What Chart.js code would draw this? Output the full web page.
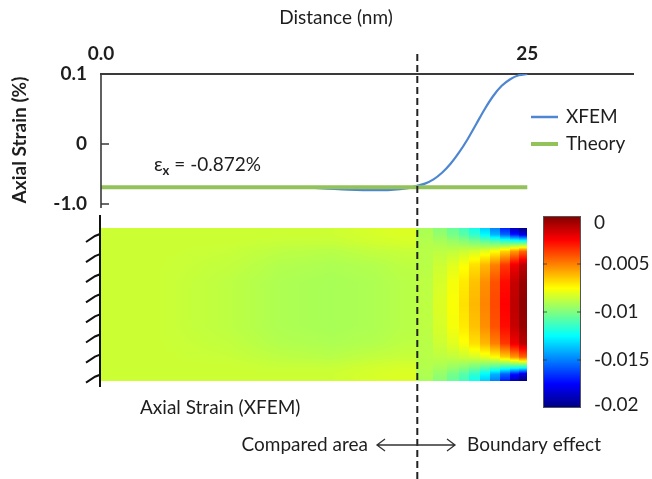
<!DOCTYPE html>
<html><head><meta charset="utf-8">
<script src="https://cdn.jsdelivr.net/npm/chart.js@4.4.1/dist/chart.umd.min.js"></script>
<style>html,body{margin:0;padding:0;background:#fff;}</style>
</head><body>
<canvas id="c" width="652" height="479"></canvas>
<script>
// ---------- data ----------
const xTickVals = [0, 25];
const xTickLabels = ['0.0', '25'];
const yTickVals = [1.1667, 0, -1.0];
const yTickLabels = ['0.1', '0', '-1.0'];

const xfemX = [0, 2, 4, 6, 8, 10, 11.5, 13, 14.5, 16, 17, 18, 18.5, 19.0, 19.5, 20.0, 20.5, 21.0, 21.5, 22.0, 22.5, 23.0, 23.5, 24.0, 24.5, 25];
const xfemY = [-0.72, -0.72, -0.72, -0.72, -0.72, -0.72, -0.725, -0.74, -0.76, -0.77, -0.765, -0.735, -0.70, -0.66, -0.59, -0.48, -0.33, -0.14, 0.08, 0.33, 0.58, 0.80, 0.97, 1.08, 1.145, 1.167];
const theoryX = [0, 25];
const theoryY = [-0.72, -0.72];
const seriesLabels = ['XFEM', 'Theory'];
const boundaryX = 18.55;
const strainNote = ' = -0.872%';

// heat map (strain field): columns between x edges (nm), values at row heights (nm)
const heatXEdges = [0, 6, 9, 12, 15, 17, 18.5, 19.5, 20.3, 21.0, 21.6, 22.2, 22.8, 23.4, 24.0, 24.5, 25.0];
const heatSmoothUntil = 18.5; // left of this the field varies smoothly, right of it in bands
const heatYStops = [9.0, 8.6, 8.2, 7.6, 6.8, 5.8, 4.5, 3.2, 2.2, 1.4, 0.8, 0.4, 0.0];
const heatValues = [
  [-0.0085,-0.0085,-0.0085,-0.0085,-0.0085,-0.0085,-0.0085,-0.0085,-0.0085,-0.0085,-0.0085,-0.0085,-0.0085],
  [-0.0085,-0.0085,-0.0085,-0.0086,-0.0087,-0.0088,-0.0088,-0.0088,-0.0087,-0.0086,-0.0085,-0.0085,-0.0085],
  [-0.0085,-0.0085,-0.0086,-0.0088,-0.0090,-0.0091,-0.0091,-0.0091,-0.0090,-0.0088,-0.0086,-0.0085,-0.0085],
  [-0.0085,-0.0085,-0.0086,-0.0089,-0.0091,-0.0092,-0.0092,-0.0092,-0.0091,-0.0089,-0.0086,-0.0085,-0.0085],
  [-0.0083,-0.0083,-0.0084,-0.0087,-0.0090,-0.0091,-0.0091,-0.0091,-0.0090,-0.0087,-0.0084,-0.0083,-0.0083],
  [-0.0082,-0.0082,-0.0083,-0.0086,-0.0088,-0.0089,-0.0089,-0.0089,-0.0088,-0.0086,-0.0083,-0.0082,-0.0082],
  [-0.0092,-0.0091,-0.0090,-0.0089,-0.0089,-0.0088,-0.0088,-0.0088,-0.0089,-0.0089,-0.0090,-0.0091,-0.0092],
  [-0.0098,-0.0096,-0.0092,-0.0088,-0.0085,-0.0083,-0.0082,-0.0083,-0.0085,-0.0088,-0.0092,-0.0096,-0.0098],
  [-0.0105,-0.0102,-0.0095,-0.0087,-0.0081,-0.0077,-0.0076,-0.0077,-0.0081,-0.0087,-0.0095,-0.0102,-0.0105],
  [-0.0112,-0.0108,-0.0098,-0.0085,-0.0076,-0.0071,-0.0069,-0.0071,-0.0076,-0.0085,-0.0098,-0.0108,-0.0112],
  [-0.0122,-0.0116,-0.0102,-0.0083,-0.0069,-0.0063,-0.0061,-0.0063,-0.0069,-0.0083,-0.0102,-0.0116,-0.0122],
  [-0.0135,-0.0126,-0.0106,-0.0080,-0.0061,-0.0053,-0.0051,-0.0053,-0.0061,-0.0080,-0.0106,-0.0126,-0.0135],
  [-0.0150,-0.0140,-0.0110,-0.0075,-0.0050,-0.0041,-0.0039,-0.0041,-0.0050,-0.0075,-0.0110,-0.0140,-0.0150],
  [-0.0170,-0.0156,-0.0115,-0.0066,-0.0036,-0.0027,-0.0025,-0.0027,-0.0036,-0.0066,-0.0115,-0.0156,-0.0170],
  [-0.0190,-0.0172,-0.0118,-0.0055,-0.0022,-0.0014,-0.0012,-0.0014,-0.0022,-0.0055,-0.0118,-0.0172,-0.0190],
  [-0.0200,-0.0182,-0.0120,-0.0045,-0.0012,-0.0005,-0.0003,-0.0005,-0.0012,-0.0045,-0.0120,-0.0182,-0.0200]
];
const cbMin = -0.02, cbMax = 0;
const cbTickVals = [0, -0.005, -0.01, -0.015, -0.02];
const cbTickLabels = ['0', '-0.005', '-0.01', '-0.015', '-0.02'];

// ---------- styling ----------
const FONT = 'Lato, "Open Sans", sans-serif';
const TXT = '#1e1e1e';
const BLUE = '#4f86d2';
const GREEN = '#93c25a';

function jetRGB(v) {
  let t = (v - cbMin) / (cbMax - cbMin);
  t = Math.max(0, Math.min(1, t));
  const c = k => Math.round(255 * Math.max(0, Math.min(1, 1.5 - Math.abs(4 * t - k))));
  return [c(3), c(2), c(1)];
}
function jet(v) { const c = jetRGB(v); return 'rgb(' + c[0] + ',' + c[1] + ',' + c[2] + ')'; }

// value of the field at (x nm, h nm)
function fieldAt(x, h) {
  const n = heatValues.length;
  let col = heatValues[n - 1];
  let c = 0;
  while (c < n - 1 && x >= heatXEdges[c + 1]) c++;
  if (x < heatSmoothUntil) {
    const centers = [];
    for (let i = 0; i < n; i++) if (heatXEdges[i + 1] <= heatSmoothUntil) centers.push((heatXEdges[i] + heatXEdges[i + 1]) / 2);
    if (x <= centers[0]) col = heatValues[0];
    else if (x >= centers[centers.length - 1]) col = heatValues[centers.length - 1];
    else {
      let k = 0;
      while (x > centers[k + 1]) k++;
      const f = (x - centers[k]) / (centers[k + 1] - centers[k]);
      col = heatValues[k].map((v, r) => v + (heatValues[k + 1][r] - v) * f);
    }
  } else {
    col = heatValues[c];
  }
  let r = 0;
  while (r < heatYStops.length - 2 && h < heatYStops[r + 1]) r++;
  const f = Math.max(0, Math.min(1, (heatYStops[r] - h) / (heatYStops[r] - heatYStops[r + 1])));
  return col[r] + (col[r + 1] - col[r]) * f;
}

const decor = {
  id: 'decor',
  beforeDatasetsDraw(chart) {
    const ctx = chart.ctx;
    const xs = chart.scales.x, yh = chart.scales.yh;
    // heat map, evaluated pixel by pixel through the scales
    const px0 = Math.round(xs.getPixelForValue(heatXEdges[0]));
    const px1 = Math.round(xs.getPixelForValue(heatXEdges[heatXEdges.length - 1]));
    const py0 = Math.round(yh.getPixelForValue(heatYStops[0]));
    const py1 = Math.round(yh.getPixelForValue(heatYStops[heatYStops.length - 1]));
    const w = px1 - px0, hgt = py1 - py0;
    const off = document.createElement('canvas');
    off.width = w; off.height = hgt;
    const octx = off.getContext('2d');
    const img = octx.createImageData(w, hgt);
    for (let j = 0; j < hgt; j++) {
      const hv = yh.getValueForPixel(py0 + j + 0.5);
      for (let i = 0; i < w; i++) {
        const xv = xs.getValueForPixel(px0 + i + 0.5);
        const rgb = jetRGB(fieldAt(xv, hv));
        const p = (j * w + i) * 4;
        img.data[p] = rgb[0]; img.data[p + 1] = rgb[1]; img.data[p + 2] = rgb[2]; img.data[p + 3] = 255;
      }
    }
    octx.putImageData(img, 0, 0);
    ctx.drawImage(off, px0, py0);
    // fixed wall with hatching
    ctx.save();
    ctx.strokeStyle = '#111';
    ctx.lineWidth = 2;
    ctx.beginPath();
    ctx.moveTo(100, 215); ctx.lineTo(100, 387);
    for (let i = 0; i < 8; i++) {
      const y = 240 + 20.1 * i;
      ctx.moveTo(86, y + 2); ctx.lineTo(95, y - 4); ctx.lineTo(100, y - 6);
    }
    ctx.stroke();
    ctx.restore();
    // colour bar
    const cbx0 = 543, cbx1 = 581, cby0 = 216, cby1 = 408;
    const gb = ctx.createLinearGradient(0, cby0, 0, cby1);
    for (let i = 0; i <= 40; i++) {
      const f = i / 40;
      gb.addColorStop(f, jet(cbMax - f * (cbMax - cbMin)));
    }
    ctx.fillStyle = gb;
    ctx.fillRect(cbx0, cby0, cbx1 - cbx0, cby1 - cby0);
    ctx.strokeStyle = '#555';
    ctx.lineWidth = 1;
    ctx.strokeRect(cbx0 + 0.5, cby0 + 0.5, cbx1 - cbx0 - 1, cby1 - cby0 - 1);
    ctx.strokeStyle = 'rgba(40,40,40,0.7)';
    ctx.beginPath();
    cbTickVals.forEach(v => {
      const y = cby0 + (cbMax - v) / (cbMax - cbMin) * (cby1 - cby0);
      if (v === cbMax || v === cbMin) return;
      ctx.moveTo(cbx0, y); ctx.lineTo(cbx0 + 4, y);
      ctx.moveTo(cbx1, y); ctx.lineTo(cbx1 - 4, y);
    });
    ctx.stroke();
    ctx.fillStyle = TXT;
    ctx.font = '19px ' + FONT;
    ctx.textAlign = 'left';
    ctx.textBaseline = 'middle';
    cbTickVals.forEach((v, i) => {
      let y = cby0 + (cbMax - v) / (cbMax - cbMin) * (cby1 - cby0);
      y = Math.max(cby0 + 7, Math.min(cby1 - 3, y));
      ctx.fillText(cbTickLabels[i], 594, y);
    });
  },
  afterDatasetsDraw(chart) {
    const ctx = chart.ctx;
    const xs = chart.scales.x, ys = chart.scales.y;
    const a = chart.chartArea;
    ctx.save();
    // y axis line with inward ticks
    ctx.strokeStyle = '#3a3a3a';
    ctx.lineWidth = 1.6;
    ctx.beginPath();
    ctx.moveTo(a.left, a.top); ctx.lineTo(a.left, ys.getPixelForValue(-1.0) + 4);
    [0, -1.0].forEach(v => {
      const y = ys.getPixelForValue(v);
      ctx.moveTo(a.left, y); ctx.lineTo(a.left + 8, y);
    });
    ctx.stroke();
    // boundary dashed line
    const bx = xs.getPixelForValue(boundaryX);
    ctx.strokeStyle = '#222';
    ctx.lineWidth = 2;
    ctx.setLineDash([7, 4]);
    ctx.beginPath();
    ctx.moveTo(bx, 54); ctx.lineTo(bx, 479);
    ctx.stroke();
    ctx.setLineDash([]);
    // titles
    ctx.fillStyle = TXT;
    ctx.textBaseline = 'middle';
    ctx.textAlign = 'center';
    ctx.font = '19px ' + FONT;
    ctx.fillText('Distance (nm)', 336, 18);
    ctx.save();
    ctx.translate(20, 140);
    ctx.rotate(-Math.PI / 2);
    ctx.font = 'bold 19px ' + FONT;
    ctx.fillText('Axial Strain (%)', 0, 0);
    ctx.restore();
    // epsilon annotation
    ctx.textAlign = 'left';
    ctx.textBaseline = 'alphabetic';
    ctx.font = '19px ' + FONT;
    let tx = 154;
    ctx.fillText('\u03b5', tx, 171);
    tx += ctx.measureText('\u03b5').width;
    ctx.font = 'bold 13px ' + FONT;
    ctx.fillText('x', tx, 175);
    tx += ctx.measureText('x').width;
    ctx.font = '19px ' + FONT;
    ctx.fillText(strainNote, tx, 171);
    // legend
    const lg = [[BLUE, 2.5, 117], [GREEN, 4, 144]];
    ctx.textBaseline = 'middle';
    lg.forEach((l, i) => {
      ctx.strokeStyle = l[0];
      ctx.lineWidth = l[1];
      ctx.beginPath();
      ctx.moveTo(531, l[2]); ctx.lineTo(558, l[2]);
      ctx.stroke();
      ctx.fillStyle = TXT;
      ctx.font = '19px ' + FONT;
      ctx.fillText(seriesLabels[i], 566, l[2]);
    });
    // lower labels
    ctx.fillStyle = TXT;
    ctx.font = '19px ' + FONT;
    ctx.textAlign = 'left';
    ctx.fillText('Axial Strain (XFEM)', 140, 408);
    ctx.textAlign = 'right';
    ctx.fillText('Compared area', 368, 445);
    ctx.textAlign = 'left';
    ctx.fillText('Boundary effect', 467, 445);
    // double arrow
    ctx.strokeStyle = '#333';
    ctx.lineWidth = 1.3;
    ctx.beginPath();
    ctx.moveTo(377, 445); ctx.lineTo(455, 445);
    ctx.moveTo(385, 439); ctx.lineTo(377, 445); ctx.lineTo(385, 451);
    ctx.moveTo(447, 439); ctx.lineTo(455, 445); ctx.lineTo(447, 451);
    ctx.stroke();
    ctx.restore();
  }
};

new Chart(document.getElementById('c'), {
  type: 'line',
  data: {
    datasets: [
      { label: seriesLabels[0], data: xfemX.map((x, i) => ({ x, y: xfemY[i] })), borderColor: BLUE, borderWidth: 2.2, cubicInterpolationMode: 'monotone', pointRadius: 0, order: 1 },
      { label: seriesLabels[1], data: theoryX.map((x, i) => ({ x, y: theoryY[i] })), borderColor: GREEN, borderWidth: 4, pointRadius: 0, order: 0 }
    ]
  },
  options: {
    responsive: false,
    animation: false,
    layout: { padding: { left: 7, top: 0, right: 19, bottom: 69 } },
    plugins: { legend: { display: false }, tooltip: { enabled: false } },
    scales: {
      x: {
        type: 'linear', position: 'top', min: 0, max: 31.2,
        afterBuildTicks: s => { s.ticks = xTickVals.map(v => ({ value: v })); },
        afterFit: s => { s.height = 74; },
        ticks: { callback: (v, i) => xTickLabels[i], font: { family: FONT, size: 19, weight: 'bold' }, color: TXT, padding: 9, maxRotation: 0, autoSkip: false },
        grid: { display: false, drawTicks: false },
        border: { display: true, color: '#3a3a3a', width: 2 }
      },
      y: {
        type: 'linear', position: 'left', min: -4.4333, max: 1.16667,
        afterBuildTicks: s => { s.ticks = yTickVals.map(v => ({ value: v })); },
        afterFit: s => { s.width = 94; },
        ticks: { callback: (v, i) => yTickLabels[i], font: { family: FONT, size: 19, weight: 'bold' }, color: TXT, padding: 14, autoSkip: false },
        grid: { display: false, drawTicks: false },
        border: { display: false }
      },
      yh: { type: 'linear', display: false, min: -1.7, max: 18 }
    }
  },
  plugins: [decor]
});
</script>
</body></html>
